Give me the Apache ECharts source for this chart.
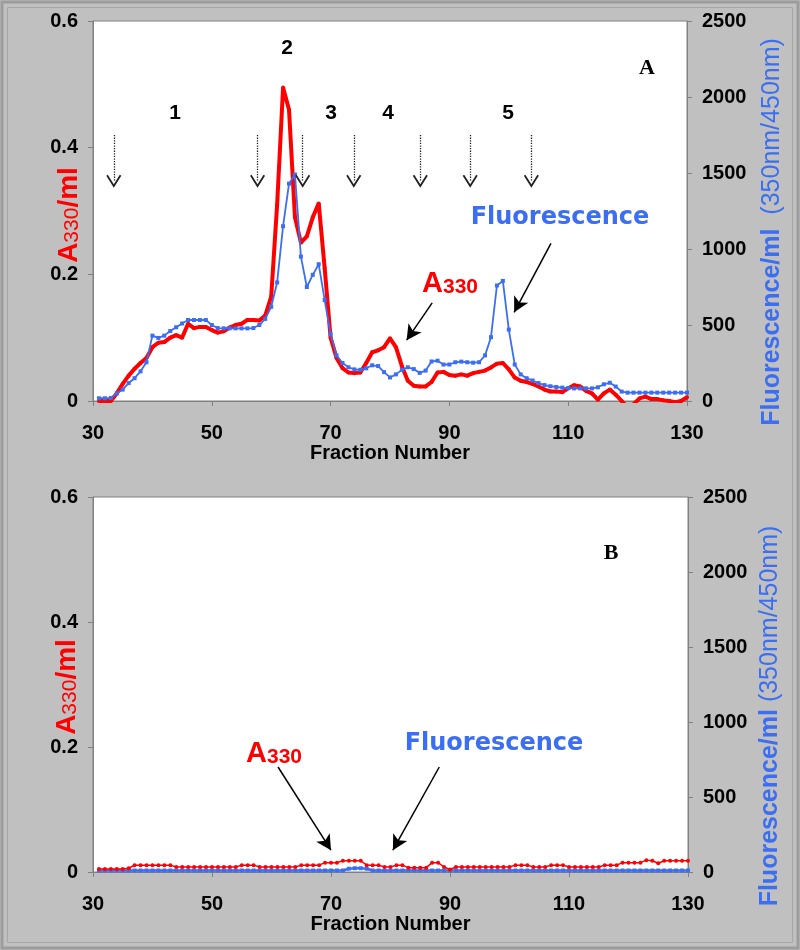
<!DOCTYPE html>
<html><head><meta charset="utf-8">
<script src="https://cdn.jsdelivr.net/npm/echarts@6/dist/echarts.min.js"></script>
<style>html,body{margin:0;padding:0;background:#c0c0c0}#c{width:800px;height:950px}</style>
</head><body><div id="c"></div>
<script>
// ---- data ----
const fractions = [31,32,33,34,35,36,37,38,39,40,41,42,43,44,45,46,47,48,49,50,
51,52,53,54,55,56,57,58,59,60,61,62,63,64,65,66,67,68,69,70,
71,72,73,74,75,76,77,78,79,80,81,82,83,84,85,86,87,88,89,90,
91,92,93,94,95,96,97,98,99,100,101,102,103,104,105,106,107,108,109,110,
111,112,113,114,115,116,117,118,119,120,121,122,123,124,125,126,127,128,129,130];
const xTicks = [30,50,70,90,110,130];
const a330Ticks = [0,0.2,0.4,0.6];
const fluorTicks = [0,500,1000,1500,2000,2500];

// Panel A
const a330A = [0,0,0,0.012,0.027,0.040,0.051,0.060,0.068,0.085,
0.092,0.093,0.100,0.104,0.100,0.122,0.115,0.117,0.117,0.112,
0.108,0.110,0.116,0.120,0.122,0.128,0.128,0.127,0.135,0.165,
0.310,0.495,0.460,0.290,0.250,0.260,0.290,0.312,0.210,0.100,
0.068,0.052,0.045,0.044,0.045,0.060,0.077,0.080,0.085,0.099,
0.085,0.055,0.032,0.024,0.023,0.023,0.030,0.045,0.046,0.041,
0.040,0.042,0.040,0.044,0.046,0.048,0.053,0.059,0.060,0.050,
0.037,0.032,0.030,0.027,0.023,0.018,0.015,0.015,0.014,0.020,
0.025,0.023,0.016,0.012,0.002,0.012,0.018,0.010,0.000,-0.010,
-0.005,0.004,0.007,0.003,0.003,0.001,0.000,-0.002,0.000,0.006];
const fluorA = [18,18,20,50,75,118,150,195,255,430,
415,430,460,485,510,533,533,533,533,500,
480,478,478,478,478,478,480,500,540,620,
780,1150,1430,1490,950,750,830,900,664,440,
300,250,222,208,205,215,235,230,190,155,
175,205,222,210,185,200,260,265,240,240,
255,259,255,252,255,300,420,760,790,470,
240,175,150,135,118,105,97,92,88,85,
83,83,83,83,90,110,120,95,62,55,
55,55,55,55,55,55,55,55,55,55];

// Panel B
const a330B = [0.005,0.005,0.005,0.005,0.005,0.006,0.011,0.011,0.011,0.011,
0.011,0.011,0.011,0.008,0.008,0.008,0.008,0.008,0.008,0.008,
0.008,0.008,0.008,0.008,0.011,0.011,0.011,0.008,0.008,0.008,
0.008,0.008,0.008,0.008,0.011,0.011,0.011,0.011,0.015,0.015,
0.015,0.018,0.018,0.018,0.018,0.011,0.011,0.011,0.008,0.008,
0.011,0.011,0.007,0.007,0.007,0.007,0.015,0.015,0.008,0.004,
0.008,0.008,0.008,0.008,0.008,0.008,0.008,0.008,0.008,0.008,
0.011,0.011,0.011,0.008,0.008,0.008,0.011,0.011,0.011,0.008,
0.008,0.008,0.008,0.008,0.008,0.011,0.011,0.011,0.015,0.015,
0.015,0.015,0.019,0.018,0.014,0.018,0.018,0.018,0.018,0.018];
const fluorB = [10,10,10,10,10,10,10,10,10,10,
10,10,10,10,10,10,10,10,10,10,
10,10,10,10,10,10,10,10,10,10,
10,10,10,10,10,10,10,10,10,10,
10,10,22,25,25,22,10,10,10,10,
10,10,10,10,10,10,10,10,10,10,
10,10,10,10,10,10,10,10,10,10,
10,10,10,10,10,10,10,10,10,10,
10,10,10,10,10,10,10,10,10,10,
10,10,10,10,10,10,10,10,10,10];

// annotation anchors (fraction, A330 units)
const dividerFractions = [33.5,57.7,65.3,73.9,85.1,93.5,103.8];
const peakLabels = ['1','2','3','4','5'];

// ---- styles ----
const RED = '#ff0000', BLUE = '#3c6ef2', AXIS = '#808080';
const SANS = 'Liberation Sans, Arial, sans-serif';
const pairs = (xs, ys) => xs.map((x, i) => [x, ys[i]]);

const chart = echarts.init(document.getElementById('c'), null, {renderer: 'canvas'});

function xAxis(gi) {
  return {type: 'value', gridIndex: gi, min: xTicks[0], max: xTicks[xTicks.length-1], interval: 20,
    axisLine: {show: true, onZero: false, lineStyle: {color: AXIS, width: 1}},
    axisTick: {show: true, inside: false, length: 5, lineStyle: {color: AXIS}},
    splitLine: {show: false},
    axisLabel: {fontFamily: SANS, fontWeight: 'bold', fontSize: 20, color: '#000', margin: 22},
    name: 'Fraction Number', nameLocation: 'middle', nameGap: 42,
    nameTextStyle: {fontFamily: SANS, fontWeight: 'bold', fontSize: 20, color: '#000'}};
}
function yLeft(gi) {
  return {type: 'value', gridIndex: gi, min: a330Ticks[0], max: a330Ticks[a330Ticks.length-1], interval: 0.2,
    position: 'left',
    axisLine: {show: true, lineStyle: {color: AXIS}},
    axisTick: {show: true, length: 5, lineStyle: {color: AXIS}},
    splitLine: {show: false},
    axisLabel: {fontFamily: SANS, fontWeight: 'bold', fontSize: 20, color: '#000', margin: 15,
      formatter: v => String(v)}};
}
function yRight(gi) {
  return {type: 'value', gridIndex: gi, min: fluorTicks[0], max: fluorTicks[fluorTicks.length-1], interval: 500,
    position: 'right',
    axisLine: {show: true, lineStyle: {color: AXIS}},
    axisTick: {show: true, length: 5, lineStyle: {color: AXIS}},
    splitLine: {show: false},
    axisLabel: {fontFamily: SANS, fontWeight: 'bold', fontSize: 20, color: '#000', margin: 15,
      formatter: v => String(v)}};
}

const chevron = 'path://M7,0 L14,11 L12.6,12 L7,3.2 L1.4,12 L0,11 Z';
const dottedArrows = dividerFractions.map(f => [
  {coord: [f, 0.42], symbol: 'none'},
  {coord: [f, 0.347], symbol: chevron, symbolSize: [15, 13]}
]);
const solidLine = {color: '#000', width: 1.5, type: 'solid'};
const topArrows = [
  [{coord: [87.1, 0.155], symbol: 'none'}, {coord: [82.8, 0.096], symbol: 'arrow', symbolSize: [12, 15]}],
  [{coord: [107.1, 0.249], symbol: 'none'}, {coord: [100.9, 0.140], symbol: 'arrow', symbolSize: [12, 15]}]
];
const botArrows = [
  [{coord: [61.1, 0.168], symbol: 'none'}, {coord: [70.0, 0.035], symbol: 'arrow', symbolSize: [12, 15]}],
  [{coord: [88.2, 0.168], symbol: 'none'}, {coord: [80.4, 0.035], symbol: 'arrow', symbolSize: [12, 15]}]
];

function textEl(x, y, text, rich, extra) {
  return Object.assign({type: 'text', x: x, y: y, z: 100,
    style: {text: text, rich: rich, align: 'center', verticalAlign: 'middle', fill: '#000',
      fontFamily: SANS, fontWeight: 'bold', fontSize: 21}}, extra || {});
}
const richAxisLeft = {
  a: {fontFamily: SANS, fontWeight: 'bold', fontSize: 28, lineHeight: 30, fill: RED, color: RED, verticalAlign: 'bottom'},
  s: {fontFamily: SANS, fontWeight: 'normal', fontSize: 21, lineHeight: 21, fill: RED, color: RED, verticalAlign: 'bottom'}
};
const richAxisRight = {
  b: {fontFamily: SANS, fontWeight: 'bold', fontSize: 25, fill: BLUE, color: BLUE},
  n: {fontFamily: SANS, fontWeight: 'normal', fontSize: 25, fill: BLUE, color: BLUE}
};
const richA330 = {
  a: {fontFamily: SANS, fontWeight: 'bold', fontSize: 29, lineHeight: 30, fill: RED, color: RED, verticalAlign: 'bottom'},
  s: {fontFamily: SANS, fontWeight: 'bold', fontSize: 21, lineHeight: 21, fill: RED, color: RED, verticalAlign: 'bottom'}
};
const serifStyle = t => ({style: {text: t, align: 'center', verticalAlign: 'middle', fill: '#000',
  fontFamily: 'Liberation Serif, Times New Roman, serif', fontWeight: 'bold', fontSize: 22}});
const fluorStyle = {style: {text: 'Fluorescence', align: 'center', verticalAlign: 'middle', fill: BLUE,
  fontFamily: 'DejaVu Sans, sans-serif', fontWeight: 'bold', fontSize: 24}};

const option = {
  animation: false,
  backgroundColor: '#c0c0c0',
  grid: [
    {left: 93, top: 21, width: 594, height: 380, show: true, backgroundColor: '#fff', borderColor: AXIS, borderWidth: 1},
    {left: 93, top: 497, width: 595, height: 375, show: true, backgroundColor: '#fff', borderColor: AXIS, borderWidth: 1}
  ],
  xAxis: [xAxis(0), xAxis(1)],
  yAxis: [yLeft(0), yRight(0), yLeft(1), yRight(1)],
  series: [
    {type: 'line', name: 'A330 A', xAxisIndex: 0, yAxisIndex: 0, data: pairs(fractions, a330A),
      symbol: 'circle', symbolSize: 4, showSymbol: true, clip: true,
      lineStyle: {color: RED, width: 4}, itemStyle: {color: RED}, z: 2,
      markLine: {silent: true, animation: false, label: {show: false}, symbol: ['none', 'arrow'],
        lineStyle: {color: '#222', width: 1.3, type: 'dotted'},
        data: dottedArrows.concat(topArrows.map(a => [Object.assign({lineStyle: solidLine}, a[0]), a[1]]))}},
    {type: 'line', name: 'Fluorescence A', xAxisIndex: 0, yAxisIndex: 1, data: pairs(fractions, fluorA),
      symbol: 'rect', symbolSize: 4, showSymbol: true, clip: true,
      lineStyle: {color: BLUE, width: 1.8}, itemStyle: {color: BLUE}, z: 3},
    {type: 'line', name: 'A330 B', xAxisIndex: 1, yAxisIndex: 2, data: pairs(fractions, a330B),
      symbol: 'circle', symbolSize: 4, showSymbol: true, clip: true,
      lineStyle: {color: RED, width: 1.5}, itemStyle: {color: RED}, z: 3,
      markLine: {silent: true, animation: false, label: {show: false}, symbol: ['none', 'arrow'],
        lineStyle: solidLine,
        data: botArrows}},
    {type: 'line', name: 'Fluorescence B', xAxisIndex: 1, yAxisIndex: 3, data: pairs(fractions, fluorB),
      symbol: 'rect', symbolSize: 4, showSymbol: true, clip: true,
      lineStyle: {color: BLUE, width: 2.5}, itemStyle: {color: BLUE}, z: 2}
  ],
  graphic: [
    {type: 'rect', shape: {x: 2, y: 2, width: 796, height: 946}, style: {fill: 'none', stroke: '#9c9c9c', lineWidth: 3}, silent: true},
    {type: 'rect', shape: {x: 7.5, y: 7.5, width: 785, height: 935}, style: {fill: 'none', stroke: '#a6a6a6', lineWidth: 1}, silent: true},
    // Panel A labels
    textEl(175, 113, peakLabels[0]),
    textEl(287, 48, peakLabels[1]),
    textEl(331, 113, peakLabels[2]),
    textEl(388, 113, peakLabels[3]),
    textEl(508, 113, peakLabels[4]),
    textEl(647, 68, 'A', null, serifStyle('A')),
    textEl(450, 283, '{a|A}{s|330}', richA330),
    textEl(560, 218, 'Fluorescence', null, fluorStyle),
    textEl(68, 215, '{a|A}{s|330}{a|/ml}', richAxisLeft, {rotation: Math.PI / 2}),
    textEl(772, 232, '{b|Fluorescence/ml}{n|  (350nm/450nm)}', richAxisRight, {rotation: Math.PI / 2}),
    // Panel B labels
    textEl(611, 553, 'B', null, serifStyle('B')),
    textEl(274, 753, '{a|A}{s|330}', richA330),
    textEl(494, 744, 'Fluorescence', null, fluorStyle),
    textEl(66, 687, '{a|A}{s|330}{a|/ml}', richAxisLeft, {rotation: Math.PI / 2}),
    textEl(770, 716, '{b|Fluorescence/ml}{n| (350nm/450nm)}', richAxisRight, {rotation: Math.PI / 2})
  ]
};
chart.setOption(option);
</script></body></html>
